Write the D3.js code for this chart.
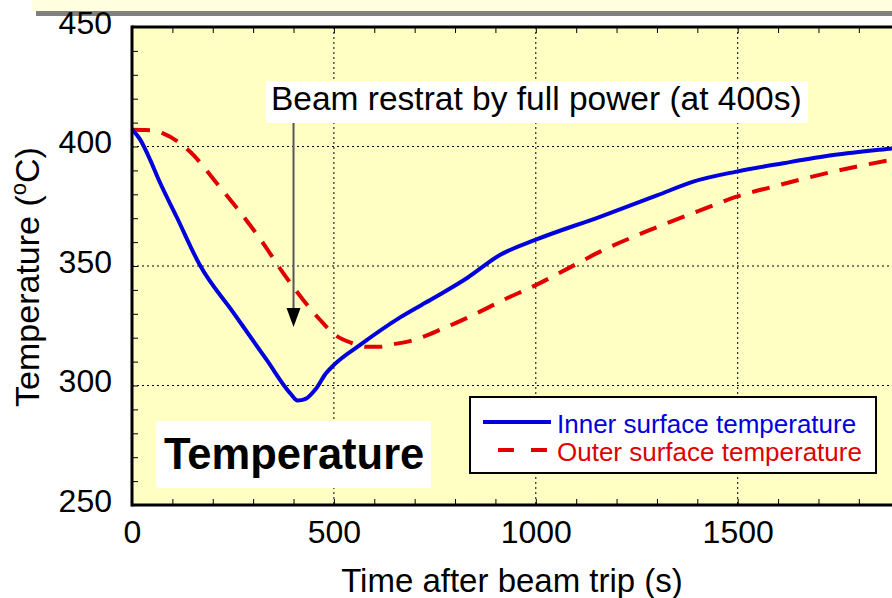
<!DOCTYPE html>
<html><head><meta charset="utf-8">
<script src="https://cdn.jsdelivr.net/npm/d3@7"></script>
<style>
html,body{margin:0;padding:0;background:#fff;}
svg{display:block;font-family:"Liberation Sans",Arial,sans-serif;}
</style></head>
<body>
<script>
// ---- data ----
const innerTime = [0, 20, 45, 65, 111, 168, 251, 334, 392, 410, 430, 455, 480, 500, 565, 664, 746, 830, 911, 1000, 1159, 1300, 1390, 1497, 1613, 1737, 1882, 1950];
const innerTemp = [407.2, 403, 394.4, 386.5, 370.4, 350.4, 330.5, 310.6, 296.7, 293.7, 294.4, 298.5, 305, 308.6, 317, 328.5, 336.5, 345, 354.6, 361, 370.6, 379.5, 385.3, 389.5, 393, 396.4, 399.2, 400.4];
const outerTime = [0, 32, 57, 77, 144, 210, 267, 325, 375, 424, 466, 498, 548, 581, 614, 639, 697, 771, 845, 920, 1000, 1080, 1159, 1283, 1431, 1497, 1588, 1737, 1882, 1950];
const outerTemp = [407, 406.9, 406.6, 405.5, 397.8, 384.6, 372.7, 359.5, 346.9, 335.8, 327.4, 321.8, 317.6, 316.2, 316.2, 317, 319, 323.9, 329.5, 335.8, 342, 349, 356, 365.1, 374.8, 379, 383.2, 389.5, 394.4, 396.2];
const xTicks = [0, 500, 1000, 1500];
const yTicks = [250, 300, 350, 400, 450];
const seriesNames = ["Inner surface temperature", "Outer surface temperature"];
const annotationText = "Beam restrat by full power (at 400s)";
const arrowAt = {t: 400};

const W = 892, H = 598;
const svg = d3.select("body").append("svg").attr("width", W).attr("height", H);
svg.append("rect").attr("width", W).attr("height", H).attr("fill", "#fff");

// decorative top band
svg.append("rect").attr("x", 32).attr("y", 0).attr("width", W - 32).attr("height", 11).attr("fill", "#FFFFE0");
svg.append("rect").attr("x", 36).attr("y", 11).attr("width", W - 36).attr("height", 5).attr("fill", "#808080");

const x = d3.scaleLinear().domain([0, 2000]).range([132, 132 + 0.4038 * 2000]);
const y = d3.scaleLinear().domain([250, 450]).range([505, 27]);

// plot background
svg.append("rect").attr("x", x(0)).attr("y", y(450)).attr("width", x(2000) - x(0)).attr("height", y(250) - y(450)).attr("fill", "#FFFFC4");

// grid
const grid = svg.append("g").attr("stroke", "#000").attr("stroke-width", 1).attr("stroke-dasharray", "2,3");
grid.selectAll(".gv").data(xTicks.filter(d => d > 0)).join("line")
  .attr("x1", d => x(d)).attr("x2", d => x(d)).attr("y1", y(450)).attr("y2", y(250));
grid.selectAll(".gh").data(yTicks.filter(d => d > 250 && d < 450)).join("line")
  .attr("x1", x(0)).attr("x2", x(2000)).attr("y1", d => y(d)).attr("y2", d => y(d));

// minor ticks
const minorX = d3.range(0, 2001, 100);
const minorY = d3.range(250, 451, 10);
svg.append("g").attr("transform", `translate(0,${y(250)})`)
  .call(d3.axisTop(x).tickValues(minorX).tickSize(6).tickFormat(""))
  .call(g => g.select(".domain").remove()).selectAll("line").attr("stroke", "#000");
svg.append("g").attr("transform", `translate(0,${y(450)})`)
  .call(d3.axisBottom(x).tickValues(minorX).tickSize(6).tickFormat(""))
  .call(g => g.select(".domain").remove()).selectAll("line").attr("stroke", "#000");
svg.append("g").attr("transform", `translate(${x(0)},0)`)
  .call(d3.axisRight(y).tickValues(minorY).tickSize(6).tickFormat(""))
  .call(g => g.select(".domain").remove()).selectAll("line").attr("stroke", "#000");

// lines
const lineGen = d3.line().x(d => x(d[0])).y(d => y(d[1])).curve(d3.curveMonotoneX);
const innerData = innerTime.map((t, i) => [t, innerTemp[i]]);
const outerData = outerTime.map((t, i) => [t, outerTemp[i]]);
svg.append("path").datum(outerData).attr("d", lineGen).attr("fill", "none")
  .attr("stroke", "#E00000").attr("stroke-width", 4).attr("stroke-dasharray", "18,12");
svg.append("path").datum(innerData).attr("d", lineGen).attr("fill", "none")
  .attr("stroke", "#0000DD").attr("stroke-width", 4);

// frame
const frame = svg.append("g").attr("stroke", "#000").attr("stroke-width", 3);
frame.append("line").attr("x1", x(0)).attr("x2", x(0)).attr("y1", y(450) - 1.5).attr("y2", y(250) + 1.5);
frame.append("line").attr("x1", x(0)).attr("x2", x(2000)).attr("y1", y(450)).attr("y2", y(450));
frame.append("line").attr("x1", x(0)).attr("x2", x(2000)).attr("y1", y(250)).attr("y2", y(250));

// axis labels
svg.append("g").attr("transform", `translate(${x(0)},0)`)
  .call(d3.axisLeft(y).tickValues(yTicks).tickSize(0).tickPadding(20).tickFormat(d3.format("d")))
  .call(g => g.select(".domain").remove())
  .selectAll("text").attr("font-size", 32).attr("fill", "#000").attr("dy", "0.2em")
  .attr("font-family", "Liberation Sans, Arial, sans-serif");
svg.append("g").attr("transform", `translate(0,${y(250)})`)
  .call(d3.axisBottom(x).tickValues(xTicks).tickSize(0).tickPadding(15).tickFormat(d3.format("d")))
  .call(g => g.select(".domain").remove())
  .selectAll("text").attr("font-size", 32).attr("fill", "#000")
  .attr("font-family", "Liberation Sans, Arial, sans-serif");

svg.append("text").attr("x", 512).attr("y", 592).attr("text-anchor", "middle")
  .attr("font-size", 33).text("Time after beam trip (s)");
const yt = svg.append("text").attr("transform", "translate(39,277) rotate(-90)")
  .attr("text-anchor", "middle").attr("font-size", 34);
yt.append("tspan").text("Temperature (");
yt.append("tspan").attr("font-size", 22).attr("dy", -13).text("o");
yt.append("tspan").attr("dy", 13).text("C)");

// annotation
svg.append("rect").attr("x", 266).attr("y", 81).attr("width", 542).attr("height", 42).attr("fill", "#fff");
svg.append("text").attr("x", 271).attr("y", 110).attr("font-size", 33.5).attr("fill", "#000").text(annotationText);
svg.append("line").attr("x1", x(arrowAt.t)).attr("x2", x(arrowAt.t))
  .attr("y1", 123).attr("y2", 310).attr("stroke", "#555").attr("stroke-width", 2);
const ax = x(arrowAt.t), tipY = 327;
svg.append("path").attr("d", `M${ax - 7},${tipY - 19}L${ax + 7},${tipY - 19}L${ax},${tipY}Z`).attr("fill", "#000");

// Temperature label
svg.append("rect").attr("x", 156).attr("y", 421).attr("width", 275).attr("height", 67).attr("fill", "#fff");
svg.append("text").attr("x", 164).attr("y", 469).attr("font-size", 43.5).attr("font-weight", "bold").text("Temperature");

// legend
const lg = svg.append("g");
lg.append("rect").attr("x", 470).attr("y", 397).attr("width", 406).attr("height", 76)
  .attr("fill", "#fff").attr("stroke", "#000").attr("stroke-width", 2);
lg.append("line").attr("x1", 483).attr("x2", 551).attr("y1", 422).attr("y2", 422)
  .attr("stroke", "#0000DD").attr("stroke-width", 4);
lg.append("line").attr("x1", 498).attr("x2", 551).attr("y1", 450).attr("y2", 450)
  .attr("stroke", "#E00000").attr("stroke-width", 4).attr("stroke-dasharray", "16,17");
lg.append("text").attr("x", 557).attr("y", 433).attr("font-size", 26).attr("fill", "#0000DD").text(seriesNames[0]);
lg.append("text").attr("x", 557).attr("y", 461).attr("font-size", 26).attr("fill", "#E00000").text(seriesNames[1]);
</script>
</body></html>
